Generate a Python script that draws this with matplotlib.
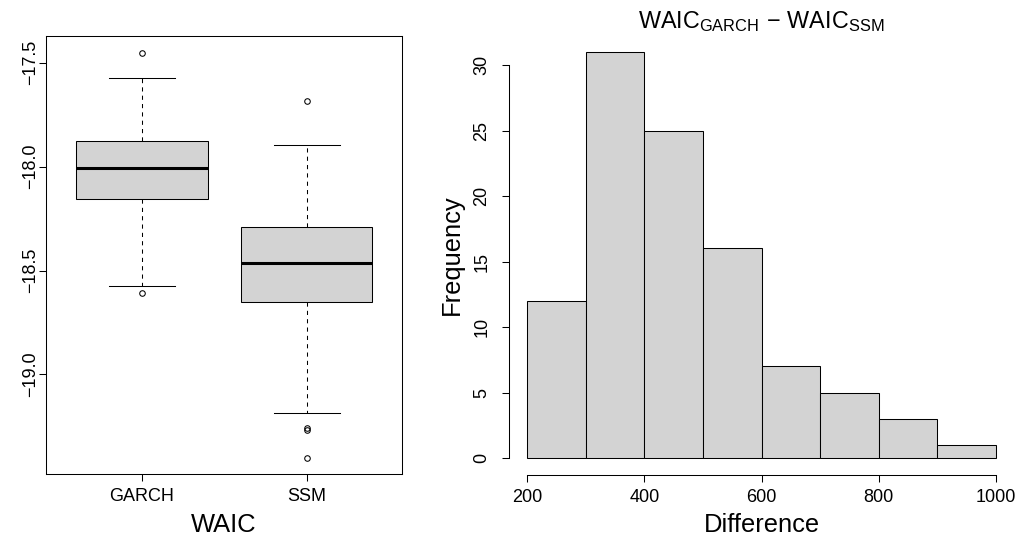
import matplotlib
matplotlib.use("Agg")
import matplotlib.pyplot as plt

plt.rcParams['font.family'] = ['Liberation Sans', 'DejaVu Sans']
plt.rcParams['mathtext.fontset'] = 'custom'
plt.rcParams['mathtext.rm'] = 'Liberation Sans'
plt.rcParams['mathtext.it'] = 'Liberation Sans:italic'
plt.rcParams['mathtext.bf'] = 'Liberation Sans:bold'

# ---------------- data ----------------
box_names = ["GARCH", "SSM"]
box_med = [-18.009, -18.464]
box_q1 = [-18.157, -18.649]
box_q3 = [-17.877, -18.290]
box_whislo = [-18.572, -19.183]
box_whishi = [-17.574, -17.895]
garch_fliers = [-17.452, -18.606]
ssm_fliers = [-17.687, -19.258, -19.268, -19.403]
box_yticks = [-17.5, -18.0, -18.5, -19.0]

hist_edges = [200, 300, 400, 500, 600, 700, 800, 900, 1000]
hist_counts = [12, 31, 25, 16, 7, 5, 3, 1]
hist_xticks = [200, 400, 600, 800, 1000]
hist_yticks = [0, 5, 10, 15, 20, 25, 30]

W, H = 1021, 539
fig = plt.figure(figsize=(W / 100, H / 100), dpi=100)

def frac_box(x0, x1, y0, y1):
    return [x0 / W, 1 - y1 / H, (x1 - x0) / W, (y1 - y0) / H]

TICK_FS = 13
LAB_FS = 18.4
LW = 0.75
GRAY = '#D3D3D3'

# ---------------- left: boxplot ----------------
ax1 = fig.add_axes(frac_box(46.3, 401.7, 36.0, 474.3))
fliers_all = [garch_fliers, ssm_fliers]
stats = []
for i, name in enumerate(box_names):
    stats.append(dict(label=name, med=box_med[i], q1=box_q1[i], q3=box_q3[i],
                      whislo=box_whislo[i], whishi=box_whishi[i],
                      fliers=fliers_all[i]))
ax1.bxp(stats, positions=[1, 2], widths=0.8, capwidths=0.4, patch_artist=True,
        boxprops=dict(facecolor=GRAY, edgecolor='black', linewidth=LW),
        medianprops=dict(color='black', linewidth=2.2, solid_capstyle='butt'),
        whiskerprops=dict(color='black', linewidth=LW, linestyle=(0, (4, 4))),
        capprops=dict(color='black', linewidth=LW),
        flierprops=dict(marker='o', markersize=4, markerfacecolor='none',
                        markeredgecolor='black', markeredgewidth=LW))
ax1.set_xlim(0.418, 2.578)
ax1.set_ylim(-19.48, -17.372)
for s in ax1.spines.values():
    s.set_linewidth(LW)
    s.set_color('black')

ax1.set_xticks([1, 2])
ax1.set_xticklabels(box_names, fontsize=TICK_FS, va='baseline')
ax1.set_yticks(box_yticks)
ax1.set_yticklabels([f"{v:.1f}".replace('-', '\u2212') for v in box_yticks],
                    fontsize=TICK_FS, rotation=90, rotation_mode='anchor',
                    ha='center', va='baseline')
ax1.tick_params(axis='both', direction='out', length=5, width=LW, color='black')
ax1.tick_params(axis='x', pad=14.2)
ax1.tick_params(axis='y', pad=3.4)
ax1.set_xlabel("WAIC", fontsize=LAB_FS, va='baseline')
ax1.xaxis.set_label_coords(0.5, -(531.7 - 474.3) / 438.3)

# ---------------- right: histogram ----------------
ax2 = fig.add_axes(frac_box(508.5, 1014.8, 35.6, 474.5))
widths = [hist_edges[i + 1] - hist_edges[i] for i in range(len(hist_counts))]
ax2.bar(hist_edges[:-1], hist_counts, width=widths, align='edge',
        color=GRAY, edgecolor='black', linewidth=LW)
ax2.set_xlim(168, 1032)
ax2.set_ylim(-1.24, 32.24)
ax2.spines['top'].set_visible(False)
ax2.spines['right'].set_visible(False)
ax2.spines['left'].set_bounds(hist_yticks[0], hist_yticks[-1])
ax2.spines['bottom'].set_bounds(hist_xticks[0], hist_xticks[-1])
for s in ('left', 'bottom'):
    ax2.spines[s].set_linewidth(LW)
    ax2.spines[s].set_color('black')

ax2.set_xticks(hist_xticks)
ax2.set_xticklabels([str(v) for v in hist_xticks], fontsize=TICK_FS, va='baseline')
ax2.set_yticks(hist_yticks)
ax2.set_yticklabels([str(v) for v in hist_yticks], fontsize=TICK_FS, rotation=90,
                    rotation_mode='anchor', ha='center', va='baseline')
ax2.tick_params(axis='both', direction='out', length=5, width=LW, color='black')
ax2.tick_params(axis='x', pad=15.1)
ax2.tick_params(axis='y', pad=10.8)
ax2.set_xlabel("Difference", fontsize=LAB_FS, va='baseline')
ax2.xaxis.set_label_coords(0.5, -(531.7 - 474.5) / 438.9)
ax2.set_ylabel("Frequency", fontsize=LAB_FS, va='baseline')
ax2.yaxis.set_label_coords(-(508.5 - 459.0) / 506.3, 0.5)

fig.text((508.5 + 1014.8) / 2 / W, 1 - 28.3 / H,
         r'$\mathrm{WAIC}_{\mathrm{GARCH}}\,-\,\mathrm{WAIC}_{\mathrm{SSM}}$',
         fontsize=16.8, ha='center', va='baseline')

fig.savefig("out.png", dpi=100)
